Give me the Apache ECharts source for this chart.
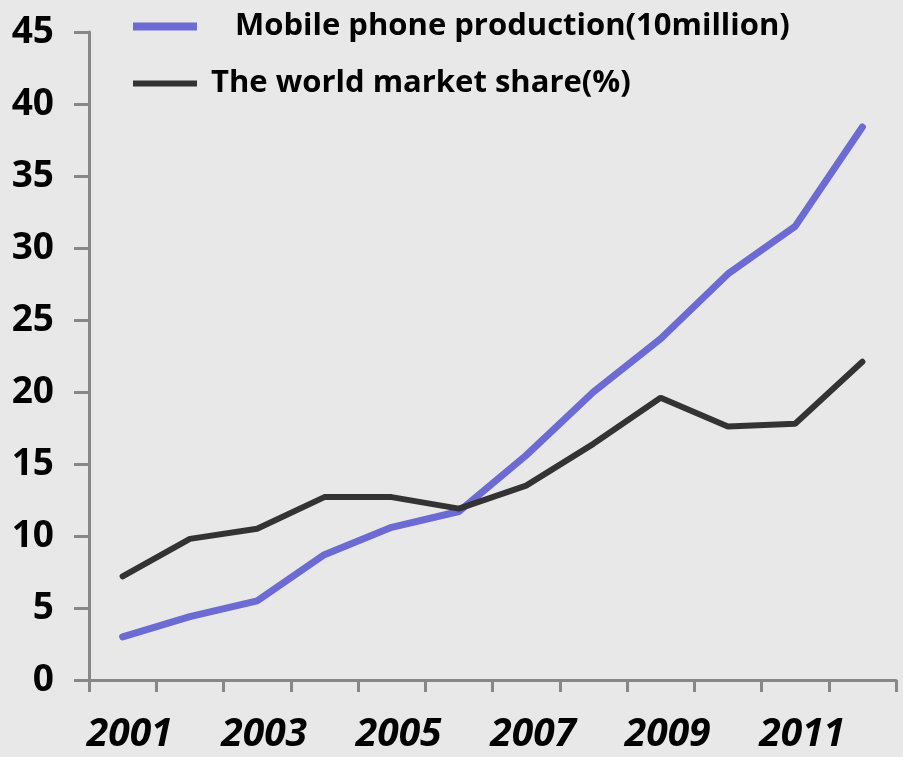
<!DOCTYPE html>
<html>
<head>
<meta charset="utf-8">
<script src="https://cdn.jsdelivr.net/npm/echarts@6/dist/echarts.min.js"></script>
<style>
  html, body { margin: 0; padding: 0; background: #e8e8e8; }
  #chart { width: 903px; height: 757px; }
</style>
</head>
<body>
<div id="chart"></div>
<script>
// Years on the category axis
const years = ['2001', '2002', '2003', '2004', '2005', '2006', '2007', '2008', '2009', '2010', '2011', '2012'];
// Mobile phone production, in units of 10 million
const production = [3.0, 4.4, 5.5, 8.7, 10.6, 11.7, 15.6, 20.0, 23.7, 28.2, 31.5, 38.4];
// Share of the world market, percent
const marketShare = [7.2, 9.8, 10.5, 12.7, 12.7, 11.9, 13.5, 16.4, 19.6, 17.6, 17.8, 22.1];

const seriesNames = ['Mobile phone production(10million)', 'The world market share(%)'];
const FONT = '"Open Sans", "Noto Sans", sans-serif';
const axisGray = '#878787';

const chart = echarts.init(document.getElementById('chart'));
chart.setOption({
  backgroundColor: '#e8e8e8',
  animation: false,
  textStyle: { fontFamily: FONT },
  legend: [
    {
      data: [seriesNames[0]],
      left: 133, top: 11, padding: 0,
      icon: 'rect', itemWidth: 64, itemHeight: 8,
      textStyle: { fontSize: 31, fontWeight: 'bold', color: '#000', fontFamily: FONT, padding: [0, 0, 0, 33] }
    },
    {
      data: [seriesNames[1]],
      left: 133, top: 68, padding: 0,
      icon: 'rect', itemWidth: 64, itemHeight: 6,
      textStyle: { fontSize: 31, fontWeight: 'bold', color: '#000', fontFamily: FONT, padding: [0, 0, 0, 9] }
    }
  ],
  grid: { left: 89, right: 7, top: 32, bottom: 77, containLabel: false },
  xAxis: {
    type: 'category',
    data: years,
    boundaryGap: true,
    axisLine: { lineStyle: { color: axisGray, width: 3 } },
    axisTick: { show: true, interval: 0, length: 12, lineStyle: { color: axisGray, width: 3 } },
    axisLabel: {
      interval: 1, margin: 35, padding: [0, 0, 0, 14],
      fontSize: 39, fontWeight: 'bold', fontStyle: 'italic', color: '#000', fontFamily: FONT
    },
    splitLine: { show: false }
  },
  yAxis: {
    type: 'value',
    min: 0, max: 45, interval: 5,
    axisLine: { show: true, lineStyle: { color: axisGray, width: 3 } },
    axisTick: { show: true, inside: false, length: 15, lineStyle: { color: axisGray, width: 3 } },
    axisLabel: { margin: 35, fontSize: 37, fontWeight: 'bold', color: '#000', fontFamily: FONT },
    splitLine: { show: false }
  },
  series: [
    {
      name: seriesNames[0],
      type: 'line',
      data: production,
      symbol: 'none',
      color: '#6b6bd3',
      lineStyle: { width: 7, color: '#6b6bd3', cap: 'round' }
    },
    {
      name: seriesNames[1],
      type: 'line',
      data: marketShare,
      symbol: 'none',
      color: '#333333',
      lineStyle: { width: 6, color: '#333333', cap: 'round' }
    }
  ]
});
</script>
</body>
</html>
